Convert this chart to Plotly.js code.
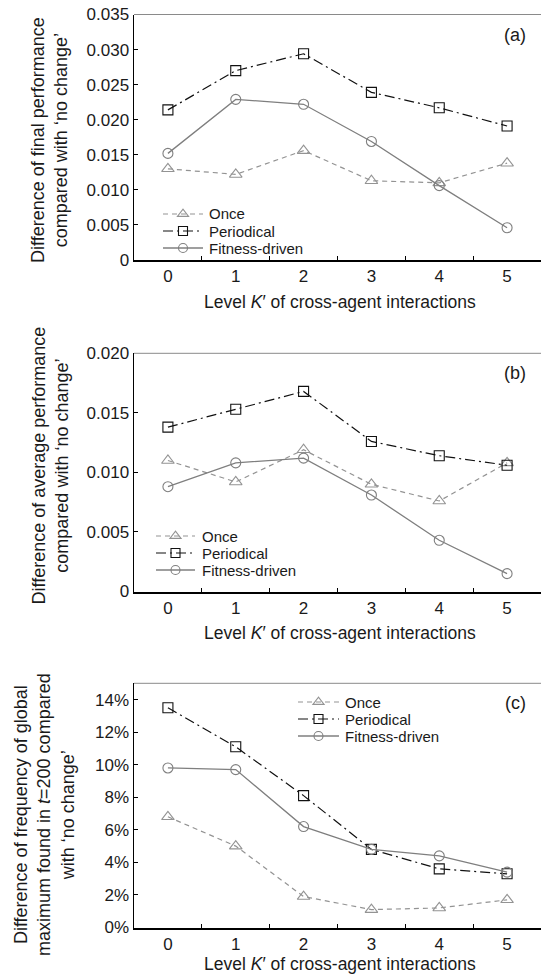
<!DOCTYPE html>
<html>
<head>
<meta charset="utf-8">
<script src="https://cdn.plot.ly/plotly-3.0.1.min.js"></script>
<style>html,body{margin:0;padding:0;background:#fff;}#chart{width:541px;height:977px;}</style>
</head>
<body>
<div id="chart"></div>
<script>
// ---- data ----
const K = [0, 1, 2, 3, 4, 5];
const seriesNames = ['Once', 'Periodical', 'Fitness-driven'];

// (a) Difference of final performance
const finalOnce       = [0.0130, 0.0122, 0.0156, 0.0113, 0.0110, 0.0138];
const finalPeriodical = [0.0214, 0.0270, 0.0294, 0.0239, 0.0217, 0.0191];
const finalFitness    = [0.0152, 0.0229, 0.0222, 0.0169, 0.0106, 0.0046];

// (b) Difference of average performance
const avgOnce       = [0.0110, 0.0092, 0.0119, 0.0090, 0.0076, 0.0108];
const avgPeriodical = [0.0138, 0.0153, 0.0168, 0.0126, 0.0114, 0.0106];
const avgFitness    = [0.0088, 0.0108, 0.0112, 0.0081, 0.0043, 0.0015];

// (c) Difference of frequency of global maximum found (%)
const freqOnce       = [6.8, 5.0, 1.9, 1.1, 1.2, 1.7];
const freqPeriodical = [13.5, 11.1, 8.1, 4.8, 3.6, 3.3];
const freqFitness    = [9.8, 9.7, 6.2, 4.8, 4.4, 3.4];

// tick labels
const xTickText = ['0', '1', '2', '3', '4', '5'];
const yTicksA = [0, 0.005, 0.010, 0.015, 0.020, 0.025, 0.030, 0.035];
const yTickTextA = ['0', '0.005', '0.010', '0.015', '0.020', '0.025', '0.030', '0.035'];
const yTicksB = [0, 0.005, 0.010, 0.015, 0.020];
const yTickTextB = ['0', '0.005', '0.010', '0.015', '0.020'];
const yTicksC = [0, 2, 4, 6, 8, 10, 12, 14];
const yTickTextC = ['0%', '2%', '4%', '6%', '8%', '10%', '12%', '14%'];

const panelLabels = ['(a)', '(b)', '(c)'];
const yTitles = [
  'Difference of final performance<br>compared with ‘no change’',
  'Difference of average performance<br>compared with ‘no change’',
  'Difference of frequency of global<br>maximum found in <i>t</i>=200 compared<br>with ‘no change’'
];
const xTitle = 'Level <i>K</i>′ of cross-agent interactions';

// ---- styling ----
const W = 541, H = 977, ML = 134;
const PW = W - ML;
const px2x = p => (p - ML) / PW;
const py2y = p => 1 - p / H;
const FONT = 'Liberation Sans, Arial, Helvetica, sans-serif';
const TXT = '#1a1a1a';

const styles = [
  {color: '#939393', dash: '5px,4px', symbol: 'triangle-up-open', size: 11, width: 1.2},
  {color: '#111111', dash: '10px,4px,2px,4px', symbol: 'square-open', size: 10, width: 1.2},
  {color: '#7f7f7f', dash: 'solid', symbol: 'circle-open', size: 10, width: 1.3}
];

const panels = [
  {ys: [finalOnce, finalPeriodical, finalFitness], top: 14.5, bottom: 260, range: [0, 0.035],
   tv: yTicksA, tt: yTickTextA, ytx: 50, yty: 140, xty: 301.5,
   leg: {x0: 163, x1: 203, tx: 207, ys: [214, 231, 248]}, lab: {x: 528, y: 35}},
  {ys: [avgOnce, avgPeriodical, avgFitness], top: 353.3, bottom: 591.5, range: [0, 0.020],
   tv: yTicksB, tt: yTickTextB, ytx: 49.5, yty: 466, xty: 633,
   leg: {x0: 156, x1: 195, tx: 200, ys: [536, 553, 570]}, lab: {x: 528, y: 373}},
  {ys: [freqOnce, freqPeriodical, freqFitness], top: 683.3, bottom: 927.5, range: [0, 15],
   tv: yTicksC, tt: yTickTextC, ytx: 44, yty: 815, xty: 964,
   leg: {x0: 298, x1: 339, tx: 343, ys: [702, 719, 736]}, lab: {x: 528, y: 703}}
];

const data = [];
const layout = {
  width: W, height: H,
  margin: {l: ML, r: 0, t: 0, b: 0, pad: 0},
  paper_bgcolor: '#fff', plot_bgcolor: '#fff',
  showlegend: false,
  font: {family: FONT, size: 17, color: TXT},
  shapes: [], annotations: []
};

panels.forEach((p, i) => {
  const n = i === 0 ? '' : String(i + 1);
  const xa = 'xaxis' + n, ya = 'yaxis' + n;
  layout[xa] = {
    type: 'category', range: [-0.5, 5.5], anchor: 'y' + n,
    categoryorder: 'array', categoryarray: K,
    tickvals: K, ticktext: xTickText, tickson: 'boundaries',
    showline: true, linecolor: '#000', linewidth: 2,
    ticks: 'inside', ticklen: 4, tickwidth: 1, tickcolor: '#000',
    showgrid: false, zeroline: false, automargin: false,
    tickfont: {family: FONT, size: 17, color: TXT}, fixedrange: true
  };
  layout[ya] = {
    domain: [py2y(p.bottom), py2y(p.top)], range: p.range, anchor: 'x' + n,
    tickmode: 'array', tickvals: p.tv, ticktext: p.tt,
    showline: true, linecolor: '#000', linewidth: 1.5,
    ticks: 'inside', ticklen: 4, tickwidth: 1, tickcolor: '#000',
    showgrid: false, zeroline: false, automargin: false,
    tickfont: {family: FONT, size: 17, color: TXT}, fixedrange: true
  };
  p.ys.forEach((vals, s) => {
    const st = styles[s];
    data.push({
      type: 'scatter', mode: 'lines+markers', name: seriesNames[s],
      x: K, y: vals, xaxis: 'x' + n, yaxis: 'y' + n, cliponaxis: false,
      line: {color: st.color, width: st.width, dash: st.dash},
      marker: {symbol: st.symbol, size: st.size, color: st.color, line: {color: st.color, width: 1.1}}
    });
  });
  // top frame line
  layout.shapes.push({type: 'line', xref: 'paper', yref: 'y' + n + ' domain',
    x0: 0, x1: 1, y0: 1, y1: 1, line: {color: '#8a8a8a', width: 1}});
  // legend (manual)
  p.leg.ys.forEach((ly, s) => {
    const st = styles[s];
    const yy = py2y(ly);
    layout.shapes.push({type: 'line', xref: 'paper', yref: 'paper',
      x0: px2x(p.leg.x0), x1: px2x(p.leg.x1), y0: yy, y1: yy,
      line: {color: st.color, width: st.width, dash: st.dash}});
    const xc = px2x((p.leg.x0 + p.leg.x1) / 2);
    const common = {xref: 'paper', yref: 'paper', xsizemode: 'pixel', ysizemode: 'pixel',
      xanchor: xc, yanchor: yy, line: {color: st.color, width: 1.1}, fillcolor: 'rgba(0,0,0,0)'};
    if (s === 0) {
      layout.shapes.push(Object.assign({type: 'path', path: 'M-5.6,-2.4 L5.6,-2.4 L0,4.9 Z'}, common));
    } else if (s === 1) {
      layout.shapes.push(Object.assign({type: 'rect', x0: -4.5, x1: 4.5, y0: -4.5, y1: 4.5}, common));
    } else {
      layout.shapes.push(Object.assign({type: 'circle', x0: -4.5, x1: 4.5, y0: -4.5, y1: 4.5}, common));
    }
    layout.annotations.push({xref: 'paper', yref: 'paper', x: px2x(p.leg.tx), y: yy,
      xanchor: 'left', yanchor: 'middle', showarrow: false, text: seriesNames[s],
      font: {family: FONT, size: 15, color: TXT}});
  });
  // panel label
  layout.annotations.push({xref: 'paper', yref: 'paper', x: px2x(p.lab.x), y: py2y(p.lab.y),
    xanchor: 'right', yanchor: 'middle', showarrow: false, text: panelLabels[i],
    font: {family: FONT, size: 18, color: TXT}});
  // x title
  layout.annotations.push({xref: 'paper', yref: 'paper', x: px2x(340), y: py2y(p.xty),
    xanchor: 'center', yanchor: 'middle', showarrow: false, text: xTitle,
    font: {family: FONT, size: 17.5, color: TXT}});
  // y title
  layout.annotations.push({xref: 'paper', yref: 'paper', x: px2x(p.ytx), y: py2y(p.yty),
    xanchor: 'center', yanchor: 'middle', showarrow: false, textangle: -90, text: yTitles[i],
    font: {family: FONT, size: 18, color: TXT}});
});

Plotly.newPlot('chart', data, layout, {staticPlot: true, displayModeBar: false});
</script>
</body>
</html>
